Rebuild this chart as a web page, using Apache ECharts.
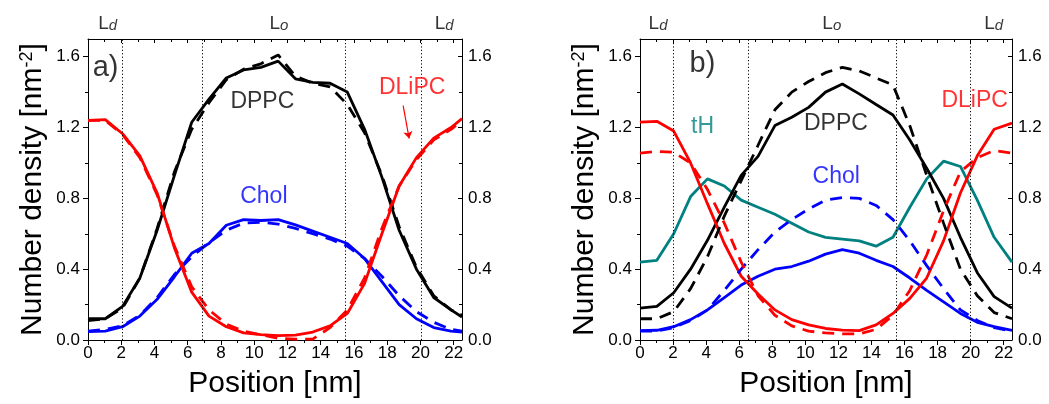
<!DOCTYPE html>
<html><head><meta charset="utf-8">
<script src="https://cdn.jsdelivr.net/npm/echarts@6/dist/echarts.min.js"></script>
<style>html,body{margin:0;padding:0;background:#fff}#c{width:1049px;height:404px}</style>
</head><body><div id="c"></div>
<script>
// ---------- data: panel a ----------
const xA = [0, 1.04, 2.08, 3.12, 4.16, 5.2, 6.24, 7.28, 8.32, 9.36, 10.4, 11.44, 12.48, 13.52, 14.56, 15.6, 16.64, 17.68, 18.72, 19.76, 20.8, 21.84, 22.5];
const dppcA = [0.12, 0.12, 0.19, 0.35, 0.62, 0.93, 1.23, 1.36, 1.48, 1.525, 1.54, 1.575, 1.475, 1.455, 1.45, 1.40, 1.19, 0.92, 0.62, 0.40, 0.24, 0.17, 0.13];
const dppcAdash = [0.11, 0.12, 0.18, 0.35, 0.63, 0.95, 1.19, 1.34, 1.47, 1.53, 1.56, 1.61, 1.49, 1.45, 1.43, 1.33, 1.17, 0.93, 0.64, 0.41, 0.25, 0.17, 0.14];
const dlipcA = [1.24, 1.245, 1.165, 1.04, 0.83, 0.52, 0.27, 0.135, 0.075, 0.04, 0.03, 0.025, 0.028, 0.045, 0.08, 0.15, 0.32, 0.60, 0.87, 1.03, 1.14, 1.2, 1.25];
const dlipcAdash = [1.24, 1.24, 1.16, 1.03, 0.82, 0.53, 0.30, 0.17, 0.09, 0.05, 0.03, 0.01, 0.005, 0.005, 0.07, 0.17, 0.35, 0.63, 0.87, 1.02, 1.13, 1.19, 1.24];
const cholA = [0.047, 0.05, 0.075, 0.135, 0.23, 0.357, 0.49, 0.545, 0.648, 0.68, 0.675, 0.68, 0.65, 0.615, 0.58, 0.545, 0.46, 0.33, 0.2, 0.12, 0.07, 0.05, 0.045];
const cholAdash = [0.05, 0.06, 0.08, 0.14, 0.24, 0.37, 0.47, 0.55, 0.62, 0.66, 0.665, 0.655, 0.63, 0.6, 0.57, 0.53, 0.46, 0.36, 0.25, 0.16, 0.1, 0.06, 0.05];
const boundsA = [2.05, 6.9, 15.48, 20.05];

// ---------- data: panel b ----------
const xB = [0, 1.02, 2.04, 3.06, 4.08, 5.1, 6.12, 7.14, 8.16, 9.18, 10.2, 11.22, 12.24, 13.26, 14.28, 15.3, 16.32, 17.34, 18.36, 19.38, 20.4, 21.42, 22.5];
const dppcB = [0.18, 0.19, 0.267, 0.40, 0.563, 0.75, 0.93, 1.037, 1.211, 1.258, 1.314, 1.40, 1.446, 1.39, 1.33, 1.271, 1.13, 0.97, 0.80, 0.58, 0.38, 0.245, 0.18];
const dppcBdash = [0.12, 0.12, 0.16, 0.29, 0.47, 0.70, 0.90, 1.10, 1.30, 1.40, 1.46, 1.51, 1.54, 1.52, 1.48, 1.44, 1.21, 0.93, 0.66, 0.40, 0.25, 0.155, 0.12];
const dlipcB = [1.23, 1.235, 1.18, 1.0, 0.77, 0.545, 0.36, 0.26, 0.17, 0.115, 0.085, 0.065, 0.056, 0.053, 0.085, 0.15, 0.235, 0.35, 0.56, 0.83, 1.04, 1.19, 1.225];
const dlipcBdash = [1.055, 1.065, 1.06, 1.0, 0.85, 0.66, 0.44, 0.25, 0.14, 0.08, 0.05, 0.04, 0.035, 0.035, 0.06, 0.14, 0.28, 0.48, 0.73, 0.95, 1.03, 1.07, 1.055];
const cholB = [0.053, 0.055, 0.075, 0.115, 0.17, 0.24, 0.31, 0.36, 0.40, 0.415, 0.445, 0.485, 0.51, 0.49, 0.45, 0.415, 0.35, 0.28, 0.215, 0.15, 0.10, 0.075, 0.055];
const cholBdash = [0.05, 0.05, 0.07, 0.11, 0.17, 0.28, 0.40, 0.51, 0.61, 0.68, 0.74, 0.79, 0.805, 0.80, 0.76, 0.68, 0.56, 0.42, 0.29, 0.17, 0.11, 0.07, 0.05];
const tHB = [0.44, 0.45, 0.60, 0.81, 0.91, 0.87, 0.79, 0.75, 0.71, 0.66, 0.61, 0.58, 0.57, 0.56, 0.53, 0.58, 0.75, 0.91, 1.01, 0.98, 0.79, 0.58, 0.44];
const boundsB = [2.0, 6.55, 15.5, 20.0];

// ---------- ticks ----------
const xTicks = [0, 2, 4, 6, 8, 10, 12, 14, 16, 18, 20, 22];
const yTicks = [0, 0.4, 0.8, 1.2, 1.6];

const FONT = '"Liberation Sans", Arial, Helvetica, sans-serif';
const BLACK = '#000000', RED = '#ff0000', BLUE = '#0000ff', TEAL = '#008080';

function pairs(xs, ys) { return xs.map((x, i) => [x, ys[i]]); }

const axisLine = { show: true, onZero: false, lineStyle: { color: '#000', width: 1 } };
function xAxesFor(g) {
  return [
    { gridIndex: g, type: 'value', min: 0, max: 22.5, interval: 2, position: 'bottom',
      axisLine, splitLine: { show: false },
      axisTick: { show: true, inside: false, length: 5, customValues: xTicks, lineStyle: { color: '#000' } },
      minorTick: { show: true, splitNumber: 2, length: 3, lineStyle: { color: '#000' } },
      axisLabel: { show: true, customValues: xTicks, margin: 5, fontSize: 17, color: '#000', fontFamily: FONT },
      name: 'Position [nm]', nameLocation: 'middle', nameGap: 29,
      nameTextStyle: { fontSize: 30, color: '#000', fontFamily: FONT } },
    { gridIndex: g, type: 'value', min: 0, max: 22.5, interval: 2, position: 'top',
      axisLine, splitLine: { show: false },
      axisTick: { show: true, inside: true, length: 4, customValues: xTicks, lineStyle: { color: '#000' } },
      minorTick: { show: true, splitNumber: 2, length: 3, lineStyle: { color: '#000' } },
      axisLabel: { show: false } }
  ];
}
function yAxesFor(g) {
  return [
    { gridIndex: g, type: 'value', min: 0, max: 1.7, interval: 0.4, position: 'left',
      axisLine, splitLine: { show: false },
      axisTick: { show: true, inside: false, length: 5, customValues: yTicks, lineStyle: { color: '#000' } },
      minorTick: { show: true, splitNumber: 2, length: 3, lineStyle: { color: '#000' } },
      axisLabel: { show: true, customValues: yTicks, margin: 8, fontSize: 17, color: '#000', fontFamily: FONT,
        formatter: v => v.toFixed(1) },
      name: 'Number density [nm{s|-2}]', nameLocation: 'middle', nameGap: 40, nameRotate: 90,
      nameTextStyle: { fontSize: 30, color: '#000', fontFamily: FONT,
        rich: { s: { fontSize: 18, color: '#000', fontFamily: FONT, verticalAlign: 'top' } } } },
    { gridIndex: g, type: 'value', min: 0, max: 1.7, interval: 0.4, position: 'right',
      axisLine, splitLine: { show: false },
      axisTick: { show: true, inside: true, length: 4, customValues: yTicks, lineStyle: { color: '#000' } },
      minorTick: { show: true, splitNumber: 2, length: 3, lineStyle: { color: '#000' } },
      axisLabel: { show: true, customValues: yTicks, margin: 6, fontSize: 17, color: '#000', fontFamily: FONT,
        formatter: v => v.toFixed(1) } }
  ];
}

function line(xi, yi, xs, ys, color, dashed, extra) {
  return Object.assign({
    type: 'line', xAxisIndex: xi, yAxisIndex: yi, data: pairs(xs, ys),
    showSymbol: false, symbol: 'none', smooth: false, silent: true, clip: false,
    lineStyle: { color, width: 2.8, type: dashed ? [12, 8] : 'solid' },
    z: dashed ? 3 : 2
  }, extra || {});
}
function bounds(vals) {
  return { silent: true, symbol: 'none', label: { show: false },
    lineStyle: { type: [1.2, 2.2], color: '#000', width: 1 },
    data: vals.map(v => ({ xAxis: v })) };
}
function ann(xi, yi, items) {
  return { type: 'scatter', xAxisIndex: xi, yAxisIndex: yi, symbolSize: 0, silent: true, clip: false, z: 10,
    data: items.map(t => ({ value: [t[0], t[1]],
      label: { show: true, position: 'inside', formatter: t[2], color: t[3], fontSize: t[4], fontFamily: FONT,
        align: 'center', verticalAlign: 'middle',
        rich: { i: { fontSize: 15, fontStyle: 'italic', color: '#000', fontFamily: FONT, verticalAlign: 'bottom' },
                m: { fontSize: 19, color: '#000', fontFamily: FONT, verticalAlign: 'bottom' } } } })) };
}

// annotation entries: [x, y, text, color, fontSize] in data units of each panel
const textA = [
  [1.06, 1.535, 'a)', BLACK, 29],
  [10.49, 1.346, 'DPPC', BLACK, 23],
  [10.58, 0.811, 'Chol', BLUE, 23],
  [19.5, 1.425, 'DLiPC', RED, 23],
  [1.18, 1.786, '{m|L}{i|d}', BLACK, 19],
  [11.49, 1.786, '{m|L}{i|o}', BLACK, 19],
  [21.43, 1.786, '{m|L}{i|d}', BLACK, 19]
];
const textB = [
  [3.78, 1.558, 'b)', BLACK, 29],
  [3.78, 1.206, 'tH', TEAL, 23],
  [11.85, 1.22, 'DPPC', BLACK, 23],
  [11.87, 0.92, 'Chol', BLUE, 23],
  [20.24, 1.352, 'DLiPC', RED, 23],
  [1.09, 1.786, '{m|L}{i|d}', BLACK, 19],
  [11.6, 1.786, '{m|L}{i|o}', BLACK, 19],
  [21.39, 1.786, '{m|L}{i|d}', BLACK, 19]
];
const arrowA = [[18.96, 1.324], [19.32, 1.138]];

const chart = echarts.init(document.getElementById('c'), null, { renderer: 'canvas' });
chart.setOption({
  animation: false,
  backgroundColor: '#fff',
  textStyle: { fontFamily: FONT },
  grid: [
    { left: 88, top: 39, width: 374, height: 301, containLabel: false },
    { left: 640, top: 39, width: 372, height: 301, containLabel: false }
  ],
  xAxis: [...xAxesFor(0), ...xAxesFor(1)],
  yAxis: [...yAxesFor(0), ...yAxesFor(1)],
  series: [
    // panel a
    line(0, 0, xA, dppcA, BLACK, false, { markLine: bounds(boundsA) }),
    line(0, 0, xA, cholA, BLUE, false),
    line(0, 0, xA, dlipcA, RED, false, { markLine: { silent: true, symbol: ['none', 'arrow'], symbolSize: 7, label: { show: false },
      lineStyle: { type: 'solid', color: RED, width: 1.2 },
      data: [[{ coord: arrowA[0] }, { coord: arrowA[1] }]] } }),
    line(0, 0, xA, dppcAdash, BLACK, true),
    line(0, 0, xA, cholAdash, BLUE, true),
    line(0, 0, xA, dlipcAdash, RED, true),
    ann(0, 0, textA),
    // panel b
    line(2, 2, xB, tHB, TEAL, false, { markLine: bounds(boundsB) }),
    line(2, 2, xB, dppcB, BLACK, false),
    line(2, 2, xB, cholB, BLUE, false),
    line(2, 2, xB, dlipcB, RED, false),
    line(2, 2, xB, dppcBdash, BLACK, true),
    line(2, 2, xB, cholBdash, BLUE, true),
    line(2, 2, xB, dlipcBdash, RED, true),
    ann(2, 2, textB)
  ]
});
</script></body></html>
